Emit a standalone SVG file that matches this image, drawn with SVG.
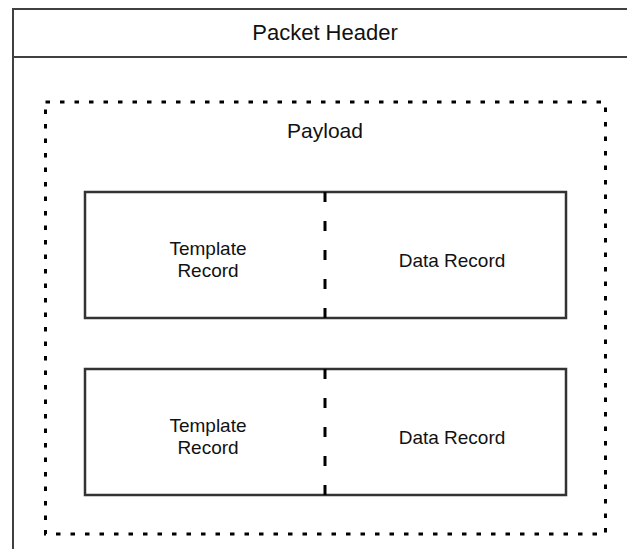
<svg xmlns="http://www.w3.org/2000/svg" width="627" height="549" viewBox="0 0 627 549">
  <style>
    .frame { fill: none; stroke: #404040; stroke-width: 2; }
    .box { fill: #ffffff; stroke: #333333; stroke-width: 2.5; }
    .dotted { fill: none; stroke: #000000; stroke-width: 3; stroke-dasharray: 4.5 10; }
    .divider { fill: none; stroke: #000000; stroke-width: 3; stroke-dasharray: 10 19; }
    text { font-family: "Liberation Sans", Arial, sans-serif; fill: #111111; text-anchor: middle; }
    .big { font-size: 22px; }
    .mid { font-size: 21px; }
    .small { font-size: 19px; }
  </style>
  <rect width="627" height="549" fill="#ffffff"/>

  <!-- packet frame: header band and body, open to the right and bottom -->
  <g id="packet">
    <rect class="frame" x="13" y="9" width="640" height="560"/>
    <line class="frame" x1="13" y1="57" x2="640" y2="57"/>
    <text class="big" x="325" y="40">Packet Header</text>
  </g>

  <!-- payload area -->
  <g id="payload">
    <rect class="dotted" x="45.5" y="102" width="560" height="432"/>
    <text class="mid" x="325" y="138">Payload</text>
  </g>

  <!-- first record pair -->
  <g id="record1">
    <rect class="box" x="85" y="192" width="481" height="126"/>
    <text class="small" x="208" y="255">Template</text>
    <text class="small" x="208" y="277">Record</text>
    <text class="small" x="452" y="267">Data Record</text>
  </g>

  <!-- second record pair -->
  <g id="record2">
    <rect class="box" x="85" y="369" width="481" height="126"/>
    <text class="small" x="208" y="432">Template</text>
    <text class="small" x="208" y="454">Record</text>
    <text class="small" x="452" y="444">Data Record</text>
  </g>

  <!-- template / data separators -->
  <g id="connectors">
    <line class="divider" x1="325" y1="192" x2="325" y2="318"/>
    <line class="divider" x1="325" y1="369" x2="325" y2="495"/>
  </g>
</svg>
